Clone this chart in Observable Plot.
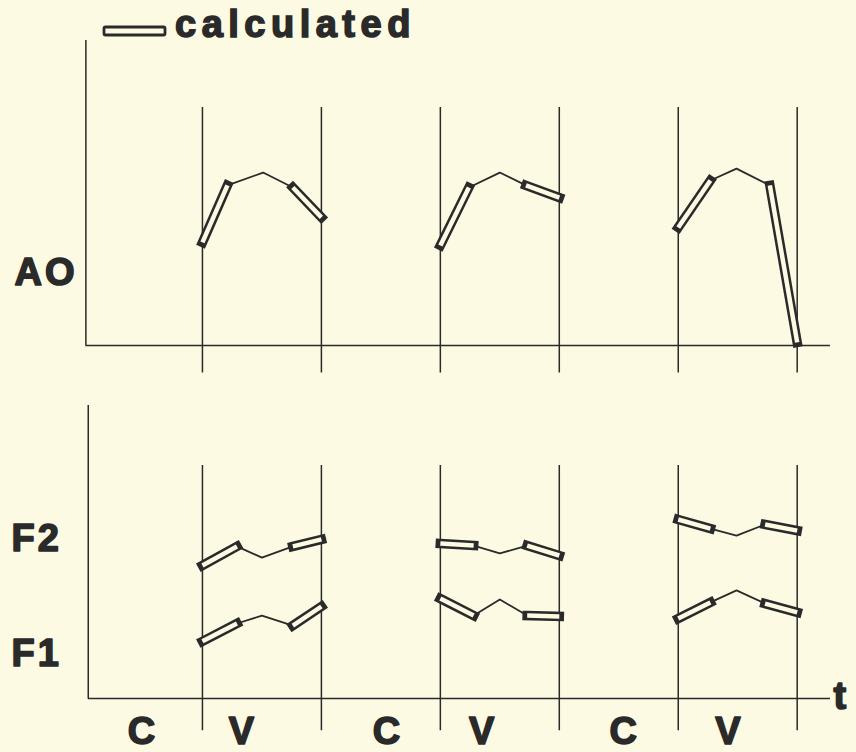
<!DOCTYPE html>
<html><head><meta charset="utf-8">
<script src="https://cdn.jsdelivr.net/npm/d3@7"></script>
<script src="https://cdn.jsdelivr.net/npm/@observablehq/plot@0.6"></script>
<style>
html,body{margin:0;padding:0;background:#fcfae3;}
#wrap{position:relative;width:856px;height:752px;overflow:hidden;font-family:"Liberation Sans",Arial,sans-serif;}
#wrap > svg{position:absolute;left:0;}
</style></head><body><div id="wrap"></div>
<script>
const ink = "#2a2a2a", paper = "#fcfae3";
const font = "Liberation Sans, Arial, sans-serif";

// time: each phase (C or V) = 1 unit; V phases span [1,2], [3,4], [5,6]
const phaseBounds = [1, 2, 3, 4, 5, 6];
const phaseLabels = ["C", "V", "C", "V", "C", "V"];
const phaseLabelT = [0.50, 1.34, 2.56, 3.36, 4.55, 5.43];

// AO: per V phase 5 points (start, p1, p2, p3, end); start→p1 and p3→end are "calculated"
const aoT = [1, 1.21, 1.51, 1.76, 2,   3, 3.24, 3.50, 3.72, 4,   5, 5.27, 5.49, 5.77, 6];
const aoV = [33.8, 52.5, 56.7, 51.8, 42.0,   32.8, 51.8, 56.7, 52.5, 48.5,   38.7, 54.1, 58.0, 52.5, 1.0];

// F1 / F2
const fT  = [1, 1.29, 1.50, 1.76, 2,   3, 3.28, 3.50, 3.73, 4,   5, 5.27, 5.49, 5.73, 6];
const f2V = [45.4, 51.9, 48.1, 51.9, 54.3,   52.9, 52.2, 49.5, 52.2, 48.8,   61.1, 58.0, 55.6, 59.4, 57.3];
const f1V = [19.5, 25.6, 28.3, 24.9, 31.4,   34.1, 28.3, 33.8, 28.3, 28.0,   27.3, 32.8, 36.9, 32.4, 29.4];

const topLabels = ["AO"], topLabelY = [23.9];
const bottomLabels = ["F2", "F1"], bottomLabelY = [54.6, 15.4];

function split(times, values, series) {
  const calc = [], meas = [];
  for (let k = 0; k * 5 < times.length; k++) {
    const i = k * 5;
    calc.push({series, x1: times[i], y1: values[i], x2: times[i + 1], y2: values[i + 1]});
    calc.push({series, x1: times[i + 3], y1: values[i + 3], x2: times[i + 4], y2: values[i + 4]});
    for (let j = 1; j <= 3; j++) meas.push({series, seg: k, x: times[i + j], y: values[i + j]});
  }
  return {calc, meas};
}

function seriesMarks(d) {
  return [
    Plot.line(d.meas, {x: "x", y: "y", z: r => r.series + r.seg, stroke: ink, strokeWidth: 1.8}),
    Plot.link(d.calc, {x1: "x1", y1: "y1", x2: "x2", y2: "y2", stroke: ink, strokeWidth: 9.5, strokeLinecap: "square"}),
    Plot.link(d.calc, {x1: "x1", y1: "y1", x2: "x2", y2: "y2", stroke: paper, strokeWidth: 4.5, strokeLinecap: "butt"})
  ];
}

const labelStyle = {fontFamily: font, fontWeight: "bold", fontSize: 38, fill: ink, stroke: ink, strokeWidth: 1.6};
const common = {
  width: 856, marginLeft: 83, marginRight: 26,
  x: {domain: [0, 6.28], axis: null},
  style: {background: "transparent", overflow: "visible", letterSpacing: "3px"}
};

const wrap = document.getElementById("wrap");

// legend
const leg = d3.create("svg").attr("width", 856).attr("height", 50).style("top", "0px");
leg.append("rect").attr("x", 104).attr("y", 27).attr("width", 61).attr("height", 8).attr("rx", 1.5)
  .attr("fill", paper).attr("stroke", ink).attr("stroke-width", 2.8);
leg.append("text").attr("x", 175).attr("y", 37).attr("font-family", font).attr("font-weight", "bold")
  .attr("font-size", 38).attr("letter-spacing", "5.5px").attr("fill", ink)
  .attr("stroke", ink).attr("stroke-width", 1.6).text("calculated");
wrap.appendChild(leg.node());

const ao = split(aoT, aoV, "AO");
const topChart = Plot.plot({
  ...common, height: 390, marginTop: 40, marginBottom: 45,
  y: {domain: [0, 100], axis: null},
  marks: [
    Plot.ruleX([0.02], {y1: 0, y2: 100, stroke: ink, strokeWidth: 1.5}),
    Plot.ruleY([0], {x1: 0.02, x2: 6.28, stroke: ink, strokeWidth: 1.5}),
    Plot.ruleX(phaseBounds, {y1: -9, y2: 78, stroke: ink, strokeWidth: 1.5}),
    ...seriesMarks(ao),
    Plot.text(topLabels, {x: 0, y: (d, i) => topLabelY[i], text: d => d, textAnchor: "start", dx: -69, ...labelStyle})
  ]
});
topChart.style.top = "0px";
wrap.appendChild(topChart);

const f2 = split(fT, f2V, "F2");
const f1 = split(fT, f1V, "F1");
const bottomChart = Plot.plot({
  ...common, height: 362, marginTop: 15, marginBottom: 54,
  y: {domain: [0, 100], axis: null},
  marks: [
    Plot.ruleX([0.04], {y1: 0, y2: 100, stroke: ink, strokeWidth: 1.5}),
    Plot.ruleY([0], {x1: 0.04, x2: 6.28, stroke: ink, strokeWidth: 1.5}),
    Plot.ruleX(phaseBounds, {y1: -11, y2: 79.5, stroke: ink, strokeWidth: 1.5}),
    ...seriesMarks(f2),
    ...seriesMarks(f1),
    Plot.text(bottomLabels, {x: 0, y: (d, i) => bottomLabelY[i], text: d => d, textAnchor: "start", dx: -72, ...labelStyle}),
    Plot.text(phaseLabels, {x: (d, i) => phaseLabelT[i], y: -11.3, text: d => d, ...labelStyle}),
    Plot.text(["t"], {x: 6.37, y: 0.5, text: d => d, ...labelStyle})
  ]
});
bottomChart.style.top = "390px";
wrap.appendChild(bottomChart);
</script></body></html>
